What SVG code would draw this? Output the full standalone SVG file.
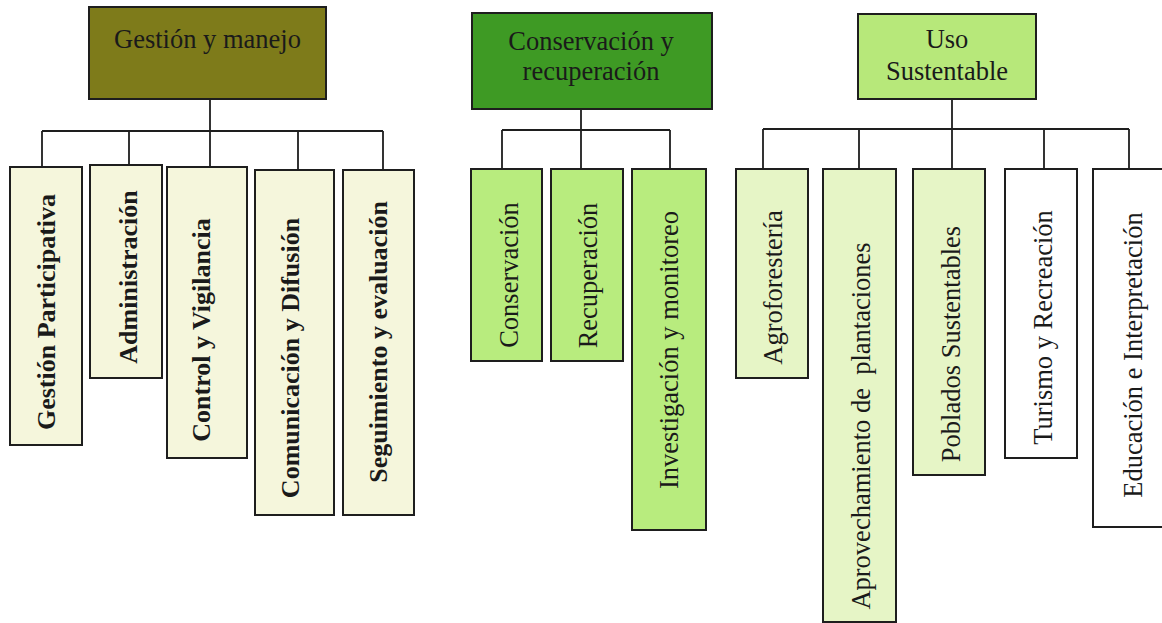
<svg xmlns="http://www.w3.org/2000/svg" width="1162" height="623" viewBox="0 0 1162 623">
<style>
.bx{stroke:#1e1e1e;stroke-width:2}
.t{font-family:"Liberation Serif","Times New Roman",serif;font-size:26.5px;fill:#1a1a1a}
.b{font-weight:bold;font-size:26px}
.v{text-anchor:middle}
.c{fill:none;stroke:#1e1e1e;stroke-width:1.8}
.p1{fill:#f5f6dc}
.p2{fill:#b8ec7e}
.p3{fill:#e6f5c6}
.p4{fill:#ffffff}
</style>
<rect width="1162" height="623" fill="#ffffff"/>
<g id="connectors" class="c">
<path d="M210 99V131M42 131H383M42 131V167M129 131V165M210 131V167M298 131V170M383 131V170"/>
<path d="M581 109V130M502 130H670M502 130V169M581 130V169M670 130V169"/>
<path d="M952 99V129M763 129H1129M763 129V169M859 129V169M952 129V169M1044 129V169M1129 129V169"/>
</g>
<g id="head-gestion">
<rect class="bx" x="89" y="7" width="237" height="92" fill="#7e7b1a"/>
<text class="t v" x="207.5" y="48">Gestión y manejo</text>
</g>
<g id="head-conservacion">
<rect class="bx" x="472" y="13" width="240" height="96" fill="#3e9a24"/>
<text class="t v" x="591" y="50">Conservación y</text>
<text class="t v" x="591" y="80">recuperación</text>
</g>
<g id="head-uso">
<rect class="bx" x="858" y="14" width="178" height="85" fill="#b7e87a"/>
<text class="t v" x="947" y="48">Uso</text>
<text class="t v" x="947" y="80">Sustentable</text>
</g>
<g id="n-gestion-participativa">
<rect class="bx p1" x="10" y="167" width="72" height="278"/>
<text class="t b v" transform="translate(55 312) rotate(-90)">Gestión Participativa</text>
</g>
<g id="n-administracion">
<rect class="bx p1" x="90" y="165" width="72" height="213"/>
<text class="t b v" transform="translate(137 277) rotate(-90)">Administración</text>
</g>
<g id="n-control">
<rect class="bx p1" x="167" y="167" width="80" height="291"/>
<text class="t b v" transform="translate(210 330) rotate(-90)">Control y Vigilancia</text>
</g>
<g id="n-comunicacion">
<rect class="bx p1" x="255" y="170" width="79" height="345"/>
<text class="t b v" transform="translate(299 358) rotate(-90)">Comunicación y Difusión</text>
</g>
<g id="n-seguimiento">
<rect class="bx p1" x="343" y="170" width="71" height="345"/>
<text class="t b v" transform="translate(387 342) rotate(-90)">Seguimiento y evaluación</text>
</g>
<g id="n-conservacion">
<rect class="bx p2" x="471" y="169" width="71" height="192"/>
<text class="t v" transform="translate(518 275) rotate(-90)">Conservación</text>
</g>
<g id="n-recuperacion">
<rect class="bx p2" x="551" y="169" width="72" height="192"/>
<text class="t v" transform="translate(597 275.5) rotate(-90)">Recuperación</text>
</g>
<g id="n-investigacion">
<rect class="bx p2" x="632" y="169" width="74" height="361"/>
<text class="t v" transform="translate(678 350) rotate(-90)">Investigación y monitoreo</text>
</g>
<g id="n-agroforesteria">
<rect class="bx p3" x="736" y="169" width="72" height="209"/>
<text class="t v" transform="translate(782 287.5) rotate(-90)">Agroforestería</text>
</g>
<g id="n-aprovechamiento">
<rect class="bx p3" x="823" y="169" width="73" height="453"/>
<text class="t v" xml:space="preserve" transform="translate(870 426) rotate(-90)">Aprovechamiento de  plantaciones</text>
</g>
<g id="n-poblados">
<rect class="bx p3" x="913" y="169" width="72" height="306"/>
<text class="t v" transform="translate(960 344) rotate(-90)">Poblados Sustentables</text>
</g>
<g id="n-turismo">
<rect class="bx p4" x="1005" y="169" width="72" height="289"/>
<text class="t v" transform="translate(1052 327.5) rotate(-90)">Turismo y Recreación</text>
</g>
<g id="n-educacion">
<rect class="bx p4" x="1093" y="169" width="73" height="358"/>
<text class="t v" transform="translate(1142 355) rotate(-90)">Educación e Interpretación</text>
</g>
</svg>
